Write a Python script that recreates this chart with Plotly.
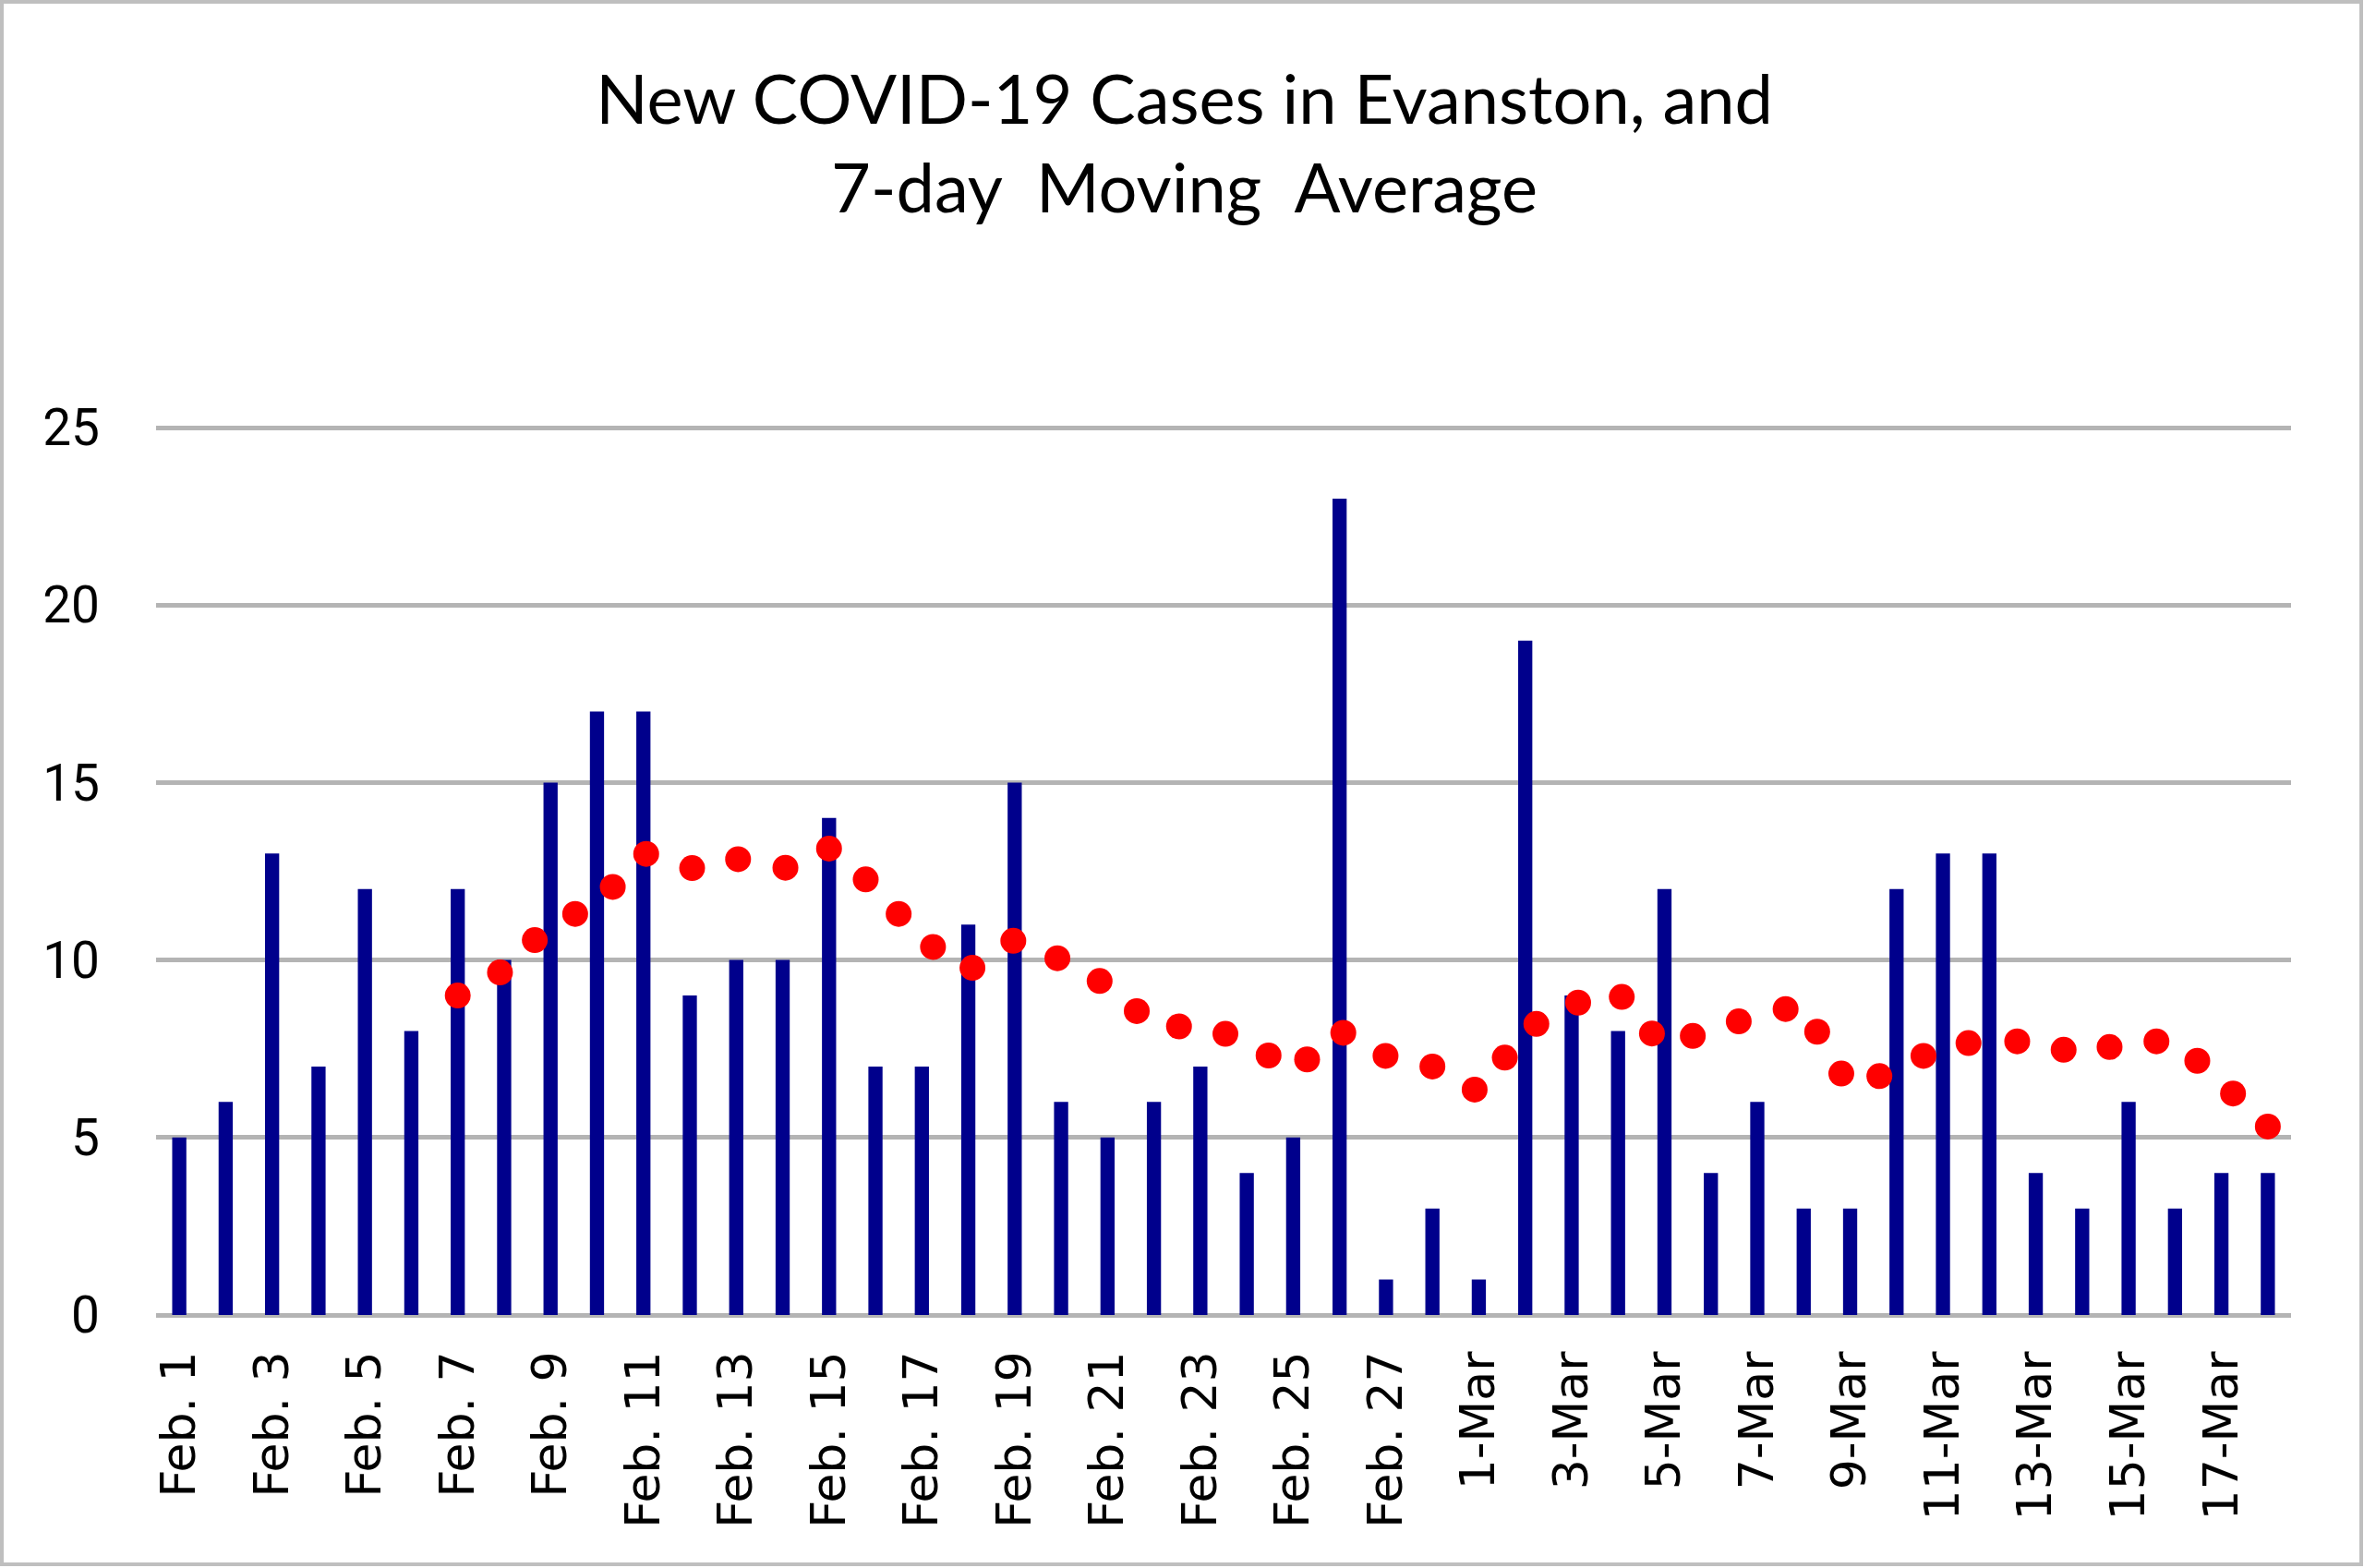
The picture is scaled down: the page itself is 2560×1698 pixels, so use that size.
import plotly.graph_objects as go

# ---- data ----
day_labels = (
    [f"Feb. {d}" for d in range(1, 29)] +
    [f"{d}-Mar" for d in range(1, 19)]
)
new_cases = [5, 6, 13, 7, 12, 8, 12, 10, 15, 17, 17, 9, 10, 10, 14, 7, 7, 11, 15, 6,
             5, 6, 7, 4, 5, 23, 1, 3, 1, 19, 9, 8, 12, 4, 6, 3, 3, 12, 13, 13,
             4, 3, 6, 3, 4, 4]

# moving-average dots: position (day index, 0 = Feb. 1) and value
ma_pos = [6.0, 6.91, 7.66, 8.53, 9.34, 10.06, 11.05, 12.04, 13.06, 14.0,
          14.79, 15.50, 16.24, 17.09, 17.97, 18.92, 19.83, 20.63, 21.54, 22.54,
          23.47, 24.30, 25.08, 25.99, 27.0, 27.91, 28.56, 29.24, 30.14, 31.08,
          31.73, 32.61, 33.60, 34.61, 35.29, 35.81, 36.63, 37.58, 38.55, 39.60,
          40.60, 41.59, 42.60, 43.48, 44.25, 45.0]
ma_values = [9.0, 9.65, 10.56, 11.30, 12.06, 12.99, 12.59, 12.84, 12.60, 13.14,
             12.27, 11.30, 10.37, 9.78, 10.54, 10.05, 9.41, 8.56, 8.13, 7.92,
             7.31, 7.20, 7.95, 7.30, 7.0, 6.35, 7.25, 8.20, 8.80, 8.96,
             7.93, 7.86, 8.27, 8.62, 7.98, 6.80, 6.73, 7.30, 7.66, 7.71,
             7.47, 7.55, 7.71, 7.16, 6.24, 5.31]

y_ticks = [0, 5, 10, 15, 20, 25]
title_lines = ["New COVID-19 Cases in Evanston, and",
               "7-day\u00a0\u00a0Moving\u00a0\u00a0Average"]

# ---- figure ----
day_idx = list(range(len(day_labels)))
tick_idx = day_idx[::2]
tick_txt = day_labels[::2]

W, H = 2560, 1698
ML, MR, MT, MB = 169, 79, 455, 274
pw, ph = W - ML - MR, H - MT - MB
y_top = 25 * ph / (1424 - 463)   # keep 25 gridline at the reference height

fig = go.Figure()
fig.add_trace(go.Bar(x=day_idx, y=new_cases, marker=dict(color="#00008C", line=dict(width=0)),
                     showlegend=False))
fig.add_trace(go.Scatter(x=ma_pos, y=ma_values, mode="markers",
                         marker=dict(color="#FF0000", size=28, line=dict(width=0)),
                         showlegend=False))

def px_x(p):
    return (p - ML) / pw

def px_y(p):
    return (H - MB - p) / ph

fig.add_shape(type="rect", xref="paper", yref="paper",
              x0=px_x(2), x1=px_x(2557), y0=px_y(1694), y1=px_y(2),
              line=dict(color="#BFBFBF", width=4), fillcolor="rgba(0,0,0,0)", layer="below")

fig.update_layout(
    width=W, height=H,
    margin=dict(l=ML, r=MR, t=MT, b=MB, pad=0),
    paper_bgcolor="white", plot_bgcolor="white",
    bargap=0.695,
    title=dict(text="<br>".join(title_lines), x=0.501, xanchor="center",
               y=1 - 134 / H, yanchor="middle", yref="container",
               font=dict(family="Lato", size=74, color="black")),
    xaxis=dict(range=[-0.5, len(day_labels) - 0.5], tickmode="array",
               tickvals=tick_idx, ticktext=tick_txt, tickangle=-90,
               showgrid=False, zeroline=False, showline=False, ticks="",
               ticklabelstandoff=28,
               tickfont=dict(family="DejaVu Sans", size=52, color="black")),
    yaxis=dict(range=[0, y_top], tickmode="array", tickvals=y_ticks,
               showgrid=True, gridcolor="#B4B4B4", gridwidth=5,
               zeroline=True, zerolinecolor="#B4B4B4", zerolinewidth=5,
               showline=False, ticks="", ticklabelstandoff=60,
               tickfont=dict(family="Roboto", size=55, color="black")),
)

fig.write_html("out.html", config={"displayModeBar": False},
               post_script="document.body.style.margin='0';")
